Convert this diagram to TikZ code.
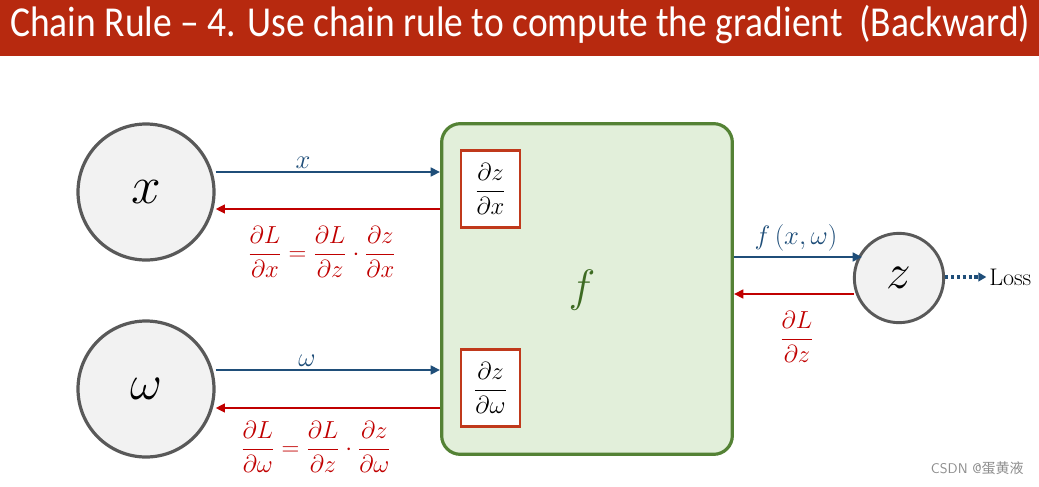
\RequirePackage{fix-cm}
\documentclass[tikz,border=0pt]{standalone}
\usepackage{fontspec}
\usepackage{graphicx}
\usetikzlibrary{arrows.meta}
\newfontfamily\titlefont{Carlito}
\newfontfamily\cjkfont{Noto Sans CJK SC}
\definecolor{titlered}{HTML}{B7290F}
\definecolor{fwdblue}{HTML}{1F4E79}
\definecolor{bwdred}{HTML}{C00000}
\definecolor{circfill}{HTML}{F2F2F2}
\definecolor{circline}{HTML}{595959}
\definecolor{boxfill}{HTML}{E2EFDA}
\definecolor{boxline}{HTML}{548235}
\definecolor{smallline}{HTML}{C0391B}
\definecolor{fgreen}{HTML}{3D6B22}
\begin{document}
\begin{tikzpicture}[x=0.75pt,y=-0.75pt,
  varcirc/.style={circle,draw=circline,fill=circfill,line width=2.4pt,minimum size=102pt,inner sep=0pt,font=\fontsize{40}{44}\selectfont},
  zcirc/.style={circle,draw=circline,fill=circfill,line width=2.2pt,minimum size=67pt,inner sep=0pt,font=\fontsize{37}{40}\selectfont},
  fbox/.style={draw=boxline,fill=boxfill,line width=2.4pt,rounded corners=14pt,minimum width=218pt,minimum height=248pt,inner sep=0pt},
  pbox/.style={draw=smallline,fill=white,line width=1.8pt,minimum width=44pt,minimum height=58pt,inner sep=0pt,font=\fontsize{18.5}{21}\selectfont},
  fwd/.style={draw=fwdblue,line width=2.2pt,-{Triangle[length=7pt,width=6.5pt]}},
  bwd/.style={draw=bwdred,line width=2.2pt,-{Triangle[length=7pt,width=6.5pt]}},
  fwdlab/.style={text=fwdblue,font=\fontsize{20}{23}\selectfont},
  bwdlab/.style={text=bwdred,font=\fontsize{18.5}{21}\selectfont}]
\useasboundingbox (0,0) rectangle (1039,486);
\fill[titlered] (0,0) rectangle (1039,56);
\node[anchor=base west,text=white,inner sep=0pt] (title) at (10,36)
  {\resizebox{765pt}{\height}{\titlefont\fontsize{32}{36}\selectfont Chain Rule – 4. Use chain rule to compute the gradient\ \ (Backward)}};

\node[varcirc] (x) at (146,192) {$x$};
\node[varcirc,font=\fontsize{37}{40}\selectfont] (w) at (146,389) {$\omega$};
\node[fbox] (f) at (587,289) {};
\node[text=fgreen,font=\fontsize{34}{38}\selectfont] (flab) at (582,290) {$f$};
\node[pbox] (dzdx) at (490.5,189) {$\displaystyle\frac{\partial z}{\partial x}$};
\node[pbox] (dzdw) at (490.5,388) {$\displaystyle\frac{\partial z}{\partial \omega}$};
\node[zcirc] (z) at (899,278) {$z$};

\draw[fwd] (x.east |- 0,172) -- (f.west |- 0,172);
\node[fwdlab,anchor=south,inner sep=1pt] (xlab) at (303,170) {$x$};
\draw[bwd] (f.west |- 0,209) -- (x.east |- 0,209);
\node[bwdlab] (gx) at (322,252) {$\displaystyle\frac{\partial L}{\partial x}=\frac{\partial L}{\partial z}\cdot\frac{\partial z}{\partial x}$};

\draw[fwd] (w.east |- 0,370) -- (f.west |- 0,370);
\node[fwdlab,anchor=south,inner sep=1pt] (wlab) at (307,368) {$\omega$};
\draw[bwd] (f.west |- 0,408) -- (w.east |- 0,408);
\node[bwdlab] (gw) at (316,447) {$\displaystyle\frac{\partial L}{\partial \omega}=\frac{\partial L}{\partial z}\cdot\frac{\partial z}{\partial \omega}$};

\draw[fwd] (f.east |- 0,257) -- (862,257);
\node[fwdlab] (fxw) at (796,238) {$f\,(x,\omega)$};
\draw[bwd] (854,294) -- (f.east |- 0,294);
\node[bwdlab] (gz) at (797,337) {$\displaystyle\frac{\partial L}{\partial z}$};

\node[anchor=west,inner sep=0pt,font=\fontsize{18}{20}\selectfont] (loss) at (989,277) {Loss};
\draw[draw=fwdblue,line width=2.4pt,dotted,-{Triangle[length=6pt,width=6.5pt]}] (z.east |- 0,277) -- ([xshift=-2pt]loss.west);

\node[text=black!45,font=\sffamily\fontsize{10.5}{12}\selectfont,anchor=east,inner sep=0pt] (wm) at (1024,468) {CSDN @{\cjkfont 蛋黄液}};
\end{tikzpicture}
\end{document}
